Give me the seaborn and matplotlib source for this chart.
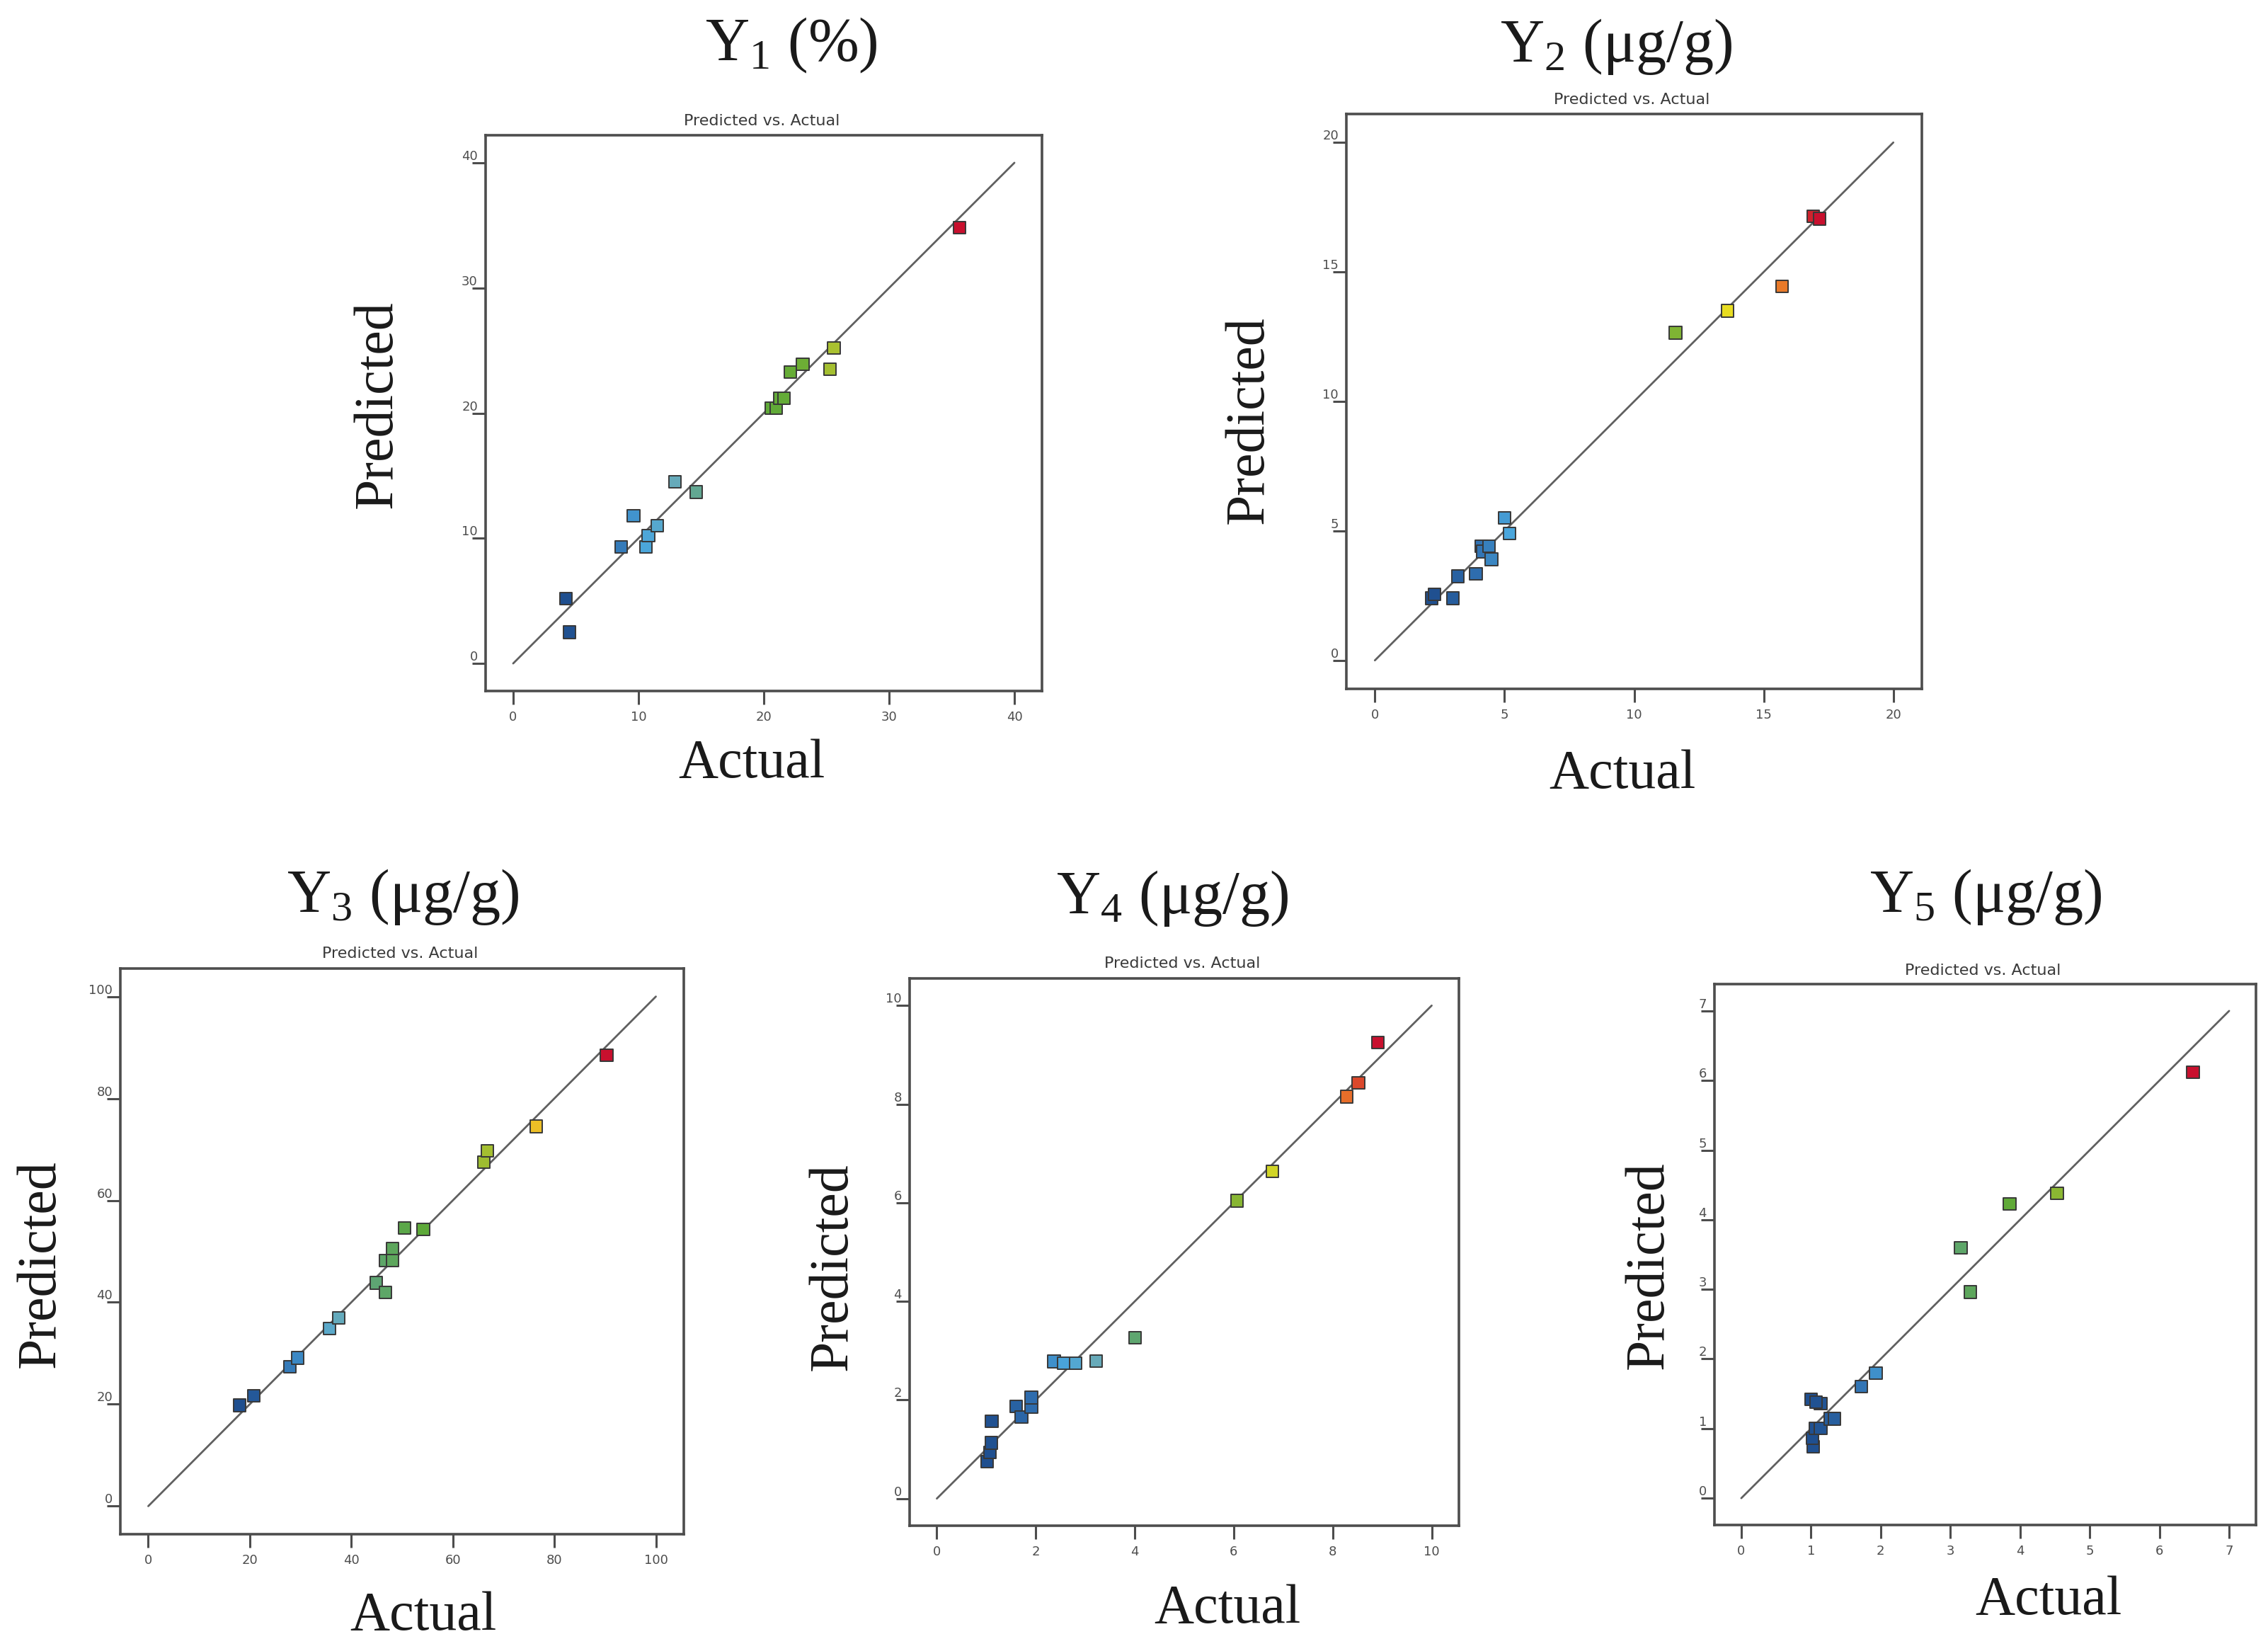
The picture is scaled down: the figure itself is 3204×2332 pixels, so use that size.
import numpy as np
import pandas as pd
import seaborn as sns
import matplotlib.pyplot as plt
from matplotlib.colors import LinearSegmentedColormap

# Y1 (%)
y1_actual = [4.2, 4.5, 8.6, 9.6, 10.6, 10.8, 11.5, 12.9, 14.6, 20.6, 21.0, 21.3, 21.6, 22.1, 23.1, 25.3, 25.6, 35.6]
y1_pred = [5.2, 2.5, 9.3, 11.8, 9.3, 10.2, 11.0, 14.5, 13.7, 20.4, 20.4, 21.2, 21.2, 23.3, 23.9, 23.5, 25.2, 34.8]

# Y2 (ug/g)
y2_actual = [2.2, 2.3, 3.0, 3.2, 3.9, 4.1, 4.15, 4.4, 4.5, 5.0, 5.2, 11.6, 13.6, 15.7, 16.9, 17.15]
y2_pred = [2.4, 2.55, 2.4, 3.25, 3.35, 4.4, 4.2, 4.4, 3.9, 5.5, 4.9, 12.65, 13.5, 14.45, 17.15, 17.05]

# Y3 (ug/g)
y3_actual = [18.0, 20.8, 27.9, 29.4, 35.7, 37.5, 44.9, 46.7, 46.7, 48.1, 48.1, 50.5, 54.2, 66.1, 66.8, 76.4, 90.3]
y3_pred = [19.8, 21.7, 27.4, 29.1, 34.9, 36.9, 43.8, 41.9, 48.2, 48.2, 50.6, 54.6, 54.3, 67.5, 69.7, 74.5, 88.5]

# Y4 (ug/g)
y4_actual = [1.02, 1.07, 1.10, 1.11, 1.60, 1.71, 1.91, 1.91, 2.37, 2.57, 2.80, 3.22, 4.01, 6.07, 6.78, 8.28, 8.52, 8.91]
y4_pred = [0.75, 0.94, 1.13, 1.57, 1.87, 1.65, 1.86, 2.05, 2.78, 2.75, 2.75, 2.79, 3.26, 6.04, 6.64, 8.15, 8.43, 9.25]

# Y5 (ug/g)
y5_actual = [1.00, 1.03, 1.02, 1.06, 1.14, 1.14, 1.07, 1.28, 1.34, 1.72, 1.93, 3.15, 3.29, 3.85, 4.53, 6.48]
y5_pred = [1.42, 0.74, 0.86, 1.00, 1.00, 1.36, 1.38, 1.14, 1.14, 1.60, 1.80, 3.60, 2.96, 4.23, 4.38, 6.12]

titles = [r"$\mathrm{Y_1}$ (%)", r"$\mathrm{Y_2}$ (μg/g)", r"$\mathrm{Y_3}$ (μg/g)",
          r"$\mathrm{Y_4}$ (μg/g)", r"$\mathrm{Y_5}$ (μg/g)"]
axis_max = [40, 20, 100, 10, 7]
tick_step = [10, 5, 20, 2, 1]

panels = [(y1_actual, y1_pred), (y2_actual, y2_pred), (y3_actual, y3_pred),
          (y4_actual, y4_pred), (y5_actual, y5_pred)]

# layout in pixels of the 3204x2332 canvas
W, H = 3204, 2332
boxes = [(686, 191, 786, 785), (1902, 161, 813, 812), (170, 1368, 796, 799),
         (1285, 1382, 776, 773), (2422, 1390, 765, 764)]
title_pos = [(1118, 85), (2283, 87), (569, 1288), (1656, 1290), (2805, 1288)]
sub_pos = [(1076, 177), (2305, 147), (565, 1353), (1670, 1367), (2801, 1377)]
ylab_pos = [(534, 571), (1765, 593), (58, 1785), (1177, 1789), (2330, 1787)]
xlab_pos = [(1062, 1098), (2292, 1113), (598, 2302), (1734, 2292), (2894, 2280)]

cmap = LinearSegmentedColormap.from_list("de", [
    (0.0, "#1f4f8f"), (0.12, "#2f6fb0"), (0.2, "#4aa6dc"), (0.28, "#68aab8"),
    (0.36, "#5fa57a"), (0.48, "#5aa83a"), (0.6, "#6aad35"), (0.68, "#a8c030"),
    (0.76, "#e8e020"), (0.84, "#f0a82a"), (0.92, "#e8702a"), (1.0, "#c8102e")])

sns.set_theme(style="white")
plt.rcParams["font.family"] = ["DejaVu Sans"]
plt.rcParams["mathtext.fontset"] = "custom"
plt.rcParams["mathtext.rm"] = "Liberation Serif"

fig = plt.figure(figsize=(W / 100, H / 100), dpi=100)
fig.patch.set_facecolor("white")

def fx(px):
    return px / W

def fy(py):
    return 1 - py / H

gray = "#4d4d4d"

for i, (act, pred) in enumerate(panels):
    x0, y0, w, h = boxes[i]
    ax = fig.add_axes([fx(x0), fy(y0 + h), w / W, h / H])
    M = axis_max[i]
    df = pd.DataFrame({"Actual": act, "Predicted": pred})

    ax.plot([0, M], [0, M], color="#606060", lw=2.0, zorder=1)
    sns.scatterplot(data=df, x="Actual", y="Predicted", hue="Actual",
                    palette=cmap, hue_norm=(min(act), max(act)), legend=False,
                    marker="s", s=155, edgecolor="#383838", linewidth=1.4,
                    zorder=3, ax=ax)

    lo, hi = -0.055 * M, 1.055 * M
    ax.set_xlim(lo, hi)
    ax.set_ylim(lo, hi)
    ticks = np.arange(0, M + 0.001, tick_step[i])
    ax.set_xticks(ticks)
    ax.set_yticks(ticks)
    ax.set_xticklabels([f"{t:g}" for t in ticks])
    ax.set_yticklabels([f"{t:g}" for t in ticks], va="bottom")
    ax.set_xlabel("")
    ax.set_ylabel("")
    ax.tick_params(axis="both", direction="out", length=14, width=2.2,
                   color=gray, labelcolor=gray, labelsize=13,
                   bottom=True, left=True)
    ax.tick_params(axis="x", pad=6)
    ax.tick_params(axis="y", pad=-6)
    for sp in ax.spines.values():
        sp.set_color(gray)
        sp.set_linewidth(2.6)
    ax.set_facecolor("white")

    tx, ty = title_pos[i]
    fig.text(fx(tx), fy(ty), titles[i], ha="center", va="baseline",
             fontsize=62, family="Liberation Serif", color="#1a1a1a")
    sx, sy = sub_pos[i]
    fig.text(fx(sx), fy(sy), "Predicted vs. Actual", ha="center", va="baseline",
             fontsize=16, color="#3a3a3a")
    lx, ly = ylab_pos[i]
    fig.text(fx(lx), fy(ly), "Predicted", ha="center", va="center", rotation=90,
             fontsize=56, family="Liberation Serif", color="#1a1a1a")
    ax_, ay_ = xlab_pos[i]
    fig.text(fx(ax_), fy(ay_), "Actual", ha="center", va="baseline",
             fontsize=56, family="Liberation Serif", color="#1a1a1a")

fig.savefig("out.png", dpi=100, facecolor="white")
